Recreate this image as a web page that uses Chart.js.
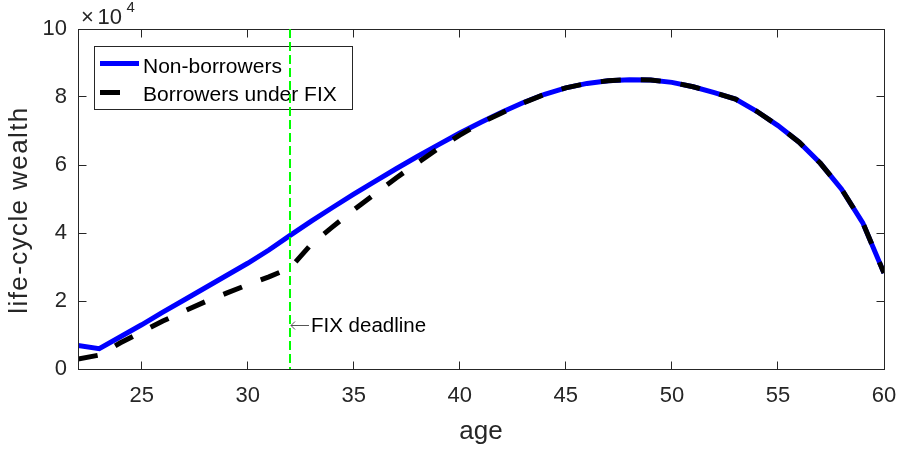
<!DOCTYPE html>
<html>
<head>
<meta charset="utf-8">
<script src="https://cdn.jsdelivr.net/npm/chart.js@4.4.0/dist/chart.umd.min.js"></script>
<style>
    html, body { margin: 0; padding: 0; background: #fff; }
    #contenedor { width: 899px; height: 453px; }
</style>
</head>
<body>
<div id="contenedor"><canvas id="graficoRiqueza" width="899" height="453"></canvas></div>
<script>
// ================= DATOS =================
const edades = [22, 23, 24, 25, 26, 27, 28, 29, 30, 31, 32, 33, 34, 35, 36, 37, 38, 39, 40,
                41, 42, 43, 44, 45, 46, 47, 48, 49, 50, 51, 52, 53, 54, 55, 56, 57, 58, 59, 60];

const noDeudores = [6900, 6000, 9500, 13000, 16700, 20300, 23900, 27500, 31100, 35000,
                    39300, 43500, 47500, 51400, 55200, 58900, 62500, 66000, 69400, 72600,
                    75600, 78400, 80800, 82700, 84000, 84800, 85100, 85000, 84300, 83000,
                    81300, 79400, 75800, 71600, 66700, 60500, 52900, 43000, 28200];

const deudoresFIX = [2900, 4100, 7700, 10900, 14100, 17000, 19800, 22300, 24800, 27100,
                     29700, 36700, 41800, 46800, 51500, 56200, 60600, 64900, 68800, 72400,
                     75400, 78300, 80800, 82700, 84000, 84800, 85100, 85000, 84300, 83000,
                     81300, 79400, 75800, 71600, 66700, 60500, 52900, 43000, 28200];

const ticksEdad = [25, 30, 35, 40, 45, 50, 55, 60];
const ticksRiqueza = [0, 20000, 40000, 60000, 80000, 100000];
const edadLimiteFIX = 32;

const nombresSeries = ["Non-borrowers", "Borrowers under FIX"];
const textos = { ejeX: "age", ejeY: "life-cycle wealth", limite: "FIX deadline", factor: "\u00d710", exponente: "4" };

// ================= ESTILO =================
const FUENTE = "'Liberation Sans', Arial, Helvetica, sans-serif";
const COLOR_EJE = "#262626";

const puntos = serie => edades.map((e, i) => ({ x: e, y: serie[i] }));

// Marco tipo MATLAB: caja, ticks hacia adentro, leyenda, línea del límite y textos
const marcoMatlab = {
    id: "marcoMatlab",
    afterDraw(chart) {
        const { ctx, chartArea: a, scales: { x, y } } = chart;
        const izq = Math.floor(a.left) + 0.5, der = Math.floor(a.right) + 0.5;
        const arr = Math.floor(a.top) + 0.5, abj = Math.floor(a.bottom) + 0.5;
        const largoTick = 8;

        ctx.save();
        ctx.strokeStyle = COLOR_EJE;
        ctx.lineWidth = 1;
        ctx.beginPath();
        ticksEdad.forEach(v => {
            const px = Math.floor(x.getPixelForValue(v)) + 0.5;
            ctx.moveTo(px, abj); ctx.lineTo(px, abj - largoTick);
            ctx.moveTo(px, arr); ctx.lineTo(px, arr + largoTick);
        });
        ticksRiqueza.forEach(v => {
            const py = Math.floor(y.getPixelForValue(v)) + 0.5;
            ctx.moveTo(izq, py); ctx.lineTo(izq + largoTick, py);
            ctx.moveTo(der, py); ctx.lineTo(der - largoTick, py);
        });
        ctx.stroke();
        ctx.strokeRect(izq, arr, der - izq, abj - arr);

        // Leyenda
        const dsAzul = chart.data.datasets[0], dsNegro = chart.data.datasets[1];
        ctx.fillStyle = "#fff";
        ctx.fillRect(94.5, 46.5, 258, 63);
        ctx.strokeStyle = COLOR_EJE;
        ctx.strokeRect(94.5, 46.5, 258, 63);
        ctx.lineWidth = dsAzul.borderWidth;
        ctx.strokeStyle = dsAzul.borderColor;
        ctx.beginPath(); ctx.moveTo(100, 63.5); ctx.lineTo(139, 63.5); ctx.stroke();
        ctx.strokeStyle = dsNegro.borderColor;
        ctx.setLineDash(dsNegro.borderDash);
        ctx.beginPath(); ctx.moveTo(100, 92.5); ctx.lineTo(139, 92.5); ctx.stroke();
        ctx.setLineDash([]);
        ctx.fillStyle = "#000";
        ctx.font = "21px " + FUENTE;
        ctx.textBaseline = "alphabetic";
        ctx.textAlign = "left";
        ctx.fillText(dsAzul.label, 143, 72.5);
        ctx.fillText(dsNegro.label, 143, 101);

        // Línea vertical del límite FIX
        const gx = Math.round(x.getPixelForValue(edadLimiteFIX));
        ctx.strokeStyle = "#00ff00";
        ctx.lineWidth = 2;
        ctx.setLineDash([9, 4]);
        ctx.beginPath(); ctx.moveTo(gx, a.top); ctx.lineTo(gx, a.bottom); ctx.stroke();
        ctx.setLineDash([]);

        // Flecha + texto del límite
        const yFlecha = 325;
        ctx.strokeStyle = "#555";
        ctx.lineWidth = 1;
        ctx.beginPath();
        ctx.moveTo(gx + 1, yFlecha + 0.5); ctx.lineTo(gx + 19, yFlecha + 0.5);
        ctx.moveTo(gx + 1, yFlecha + 0.5); ctx.lineTo(gx + 5, yFlecha - 3.5);
        ctx.moveTo(gx + 1, yFlecha + 0.5); ctx.lineTo(gx + 5, yFlecha + 4.5);
        ctx.stroke();
        ctx.fillStyle = "#000";
        ctx.font = "20.5px " + FUENTE;
        ctx.fillText(textos.limite, gx + 21, 332);

        // Factor de escala ×10^4
        ctx.fillStyle = COLOR_EJE;
        ctx.font = "22px " + FUENTE;
        ctx.fillText(textos.factor.charAt(0), 81, 23.5);
        ctx.fillText(textos.factor.slice(1), 97.5, 24);
        ctx.font = "15px " + FUENTE;
        ctx.fillText(textos.exponente, 126.5, 11.8);

        // Títulos de ejes
        ctx.font = "26px " + FUENTE;
        ctx.textAlign = "center";
        ctx.textBaseline = "middle";
        ctx.fillText(textos.ejeX, (a.left + a.right) / 2, 432);
        ctx.save();
        ctx.translate(20, 210);
        ctx.rotate(-Math.PI / 2);
        if ("letterSpacing" in ctx) ctx.letterSpacing = "1.4px";
        ctx.fillText(textos.ejeY, 0, 0);
        ctx.restore();

        ctx.restore();
    }
};

// ================= GRAFICO =================
new Chart(document.getElementById("graficoRiqueza"), {
    type: "line",
    data: {
        datasets: [
            {
                label: nombresSeries[0],
                data: puntos(noDeudores),
                borderColor: "#0000ff",
                borderWidth: 5,
                pointRadius: 0,
                tension: 0,
                order: 2
            },
            {
                label: nombresSeries[1],
                data: puntos(deudoresFIX),
                borderColor: "#000000",
                borderWidth: 5,
                borderDash: [20, 20],
                pointRadius: 0,
                tension: 0,
                order: 1
            }
        ]
    },
    options: {
        responsive: false,
        animation: false,
        devicePixelRatio: 1,
        layout: { padding: { left: 0, top: 29, right: 15, bottom: 0 } },
        plugins: { legend: { display: false }, tooltip: { enabled: false } },
        scales: {
            x: {
                type: "linear",
                min: 22,
                max: 60,
                grid: { display: false, drawTicks: false },
                border: { display: false },
                afterBuildTicks: s => { s.ticks = ticksEdad.map(v => ({ value: v })); },
                afterFit: s => { s.height = 84; s.paddingLeft = 0; s.paddingRight = 0; },
                ticks: {
                    autoSkip: false,
                    maxRotation: 0,
                    padding: 14,
                    color: COLOR_EJE,
                    font: { family: FUENTE, size: 22 }
                }
            },
            y: {
                min: 0,
                max: 100000,
                grid: { display: false, drawTicks: false },
                border: { display: false },
                afterBuildTicks: s => { s.ticks = ticksRiqueza.map(v => ({ value: v })); },
                afterFit: s => { s.width = 78; s.paddingTop = 0; s.paddingBottom = 0; },
                ticks: {
                    padding: 11,
                    color: COLOR_EJE,
                    font: { family: FUENTE, size: 22 },
                    callback: v => v / 10000
                }
            }
        }
    },
    plugins: [marcoMatlab]
});
</script>
</body>
</html>
